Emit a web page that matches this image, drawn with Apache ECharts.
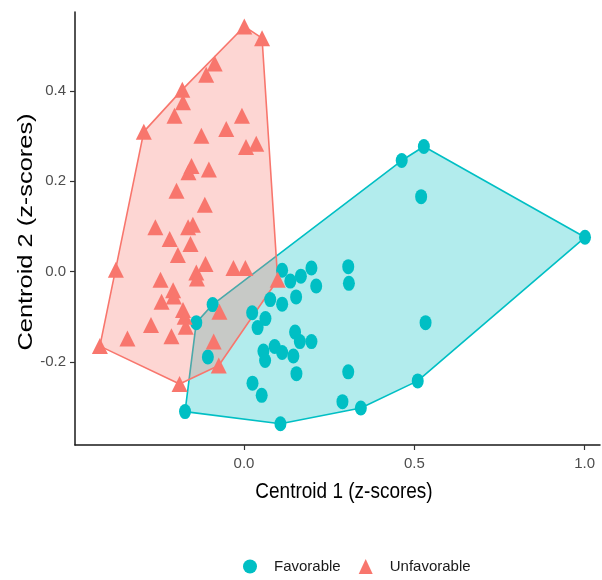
<!DOCTYPE html>
<html>
<head>
<meta charset="utf-8">
<script src="https://cdn.jsdelivr.net/npm/echarts@6/dist/echarts.min.js"></script>
<style>
  html, body { margin: 0; padding: 0; background: #fff; }
  #chart { width: 602px; height: 580px; }
</style>
</head>
<body>
<div id="chart"></div>
<script>
// Centroid scores (z-scores) per case, split by outcome group
const favorableX = [0.528, 0.463, 0.520, 1.001, 0.533, 0.510, 0.112, 0.136, 0.167, 0.198,
  0.212, 0.306, 0.308, 0.153, 0.077, 0.112, 0.024, 0.063, 0.040, -0.092,
  -0.140, -0.106, 0.150, 0.164, 0.198, 0.090, 0.112, 0.057, 0.062, 0.145,
  0.154, 0.025, 0.052, 0.306, 0.289, 0.343, -0.173, 0.107];
const favorableY = [0.277, 0.246, 0.166, 0.076, -0.113, -0.242, 0.003, -0.021, -0.010, 0.008,
  -0.032, 0.011, -0.026, -0.056, -0.062, -0.072, -0.091, -0.104, -0.124, -0.073,
  -0.113, -0.189, -0.134, -0.155, -0.155, -0.166, -0.179, -0.176, -0.197, -0.187,
  -0.226, -0.247, -0.274, -0.222, -0.288, -0.302, -0.310, -0.337];

const unfavorableX = [0.001, 0.053, -0.086, -0.111, -0.181, -0.179, -0.204, -0.294, -0.006, -0.052,
  -0.125, 0.006, 0.036, -0.154, -0.163, -0.103, -0.198, -0.115, -0.260, -0.164,
  -0.150, -0.218, -0.157, -0.194, -0.376, -0.245, -0.140, -0.138, -0.113, -0.031,
  0.004, 0.099, -0.208, -0.206, -0.242, -0.179, -0.174, -0.171, -0.273, -0.213,
  -0.342, -0.423, -0.072, -0.089, -0.074, -0.189];
const unfavorableY = [0.543, 0.517, 0.461, 0.436, 0.403, 0.375, 0.345, 0.310, 0.345, 0.316,
  0.301, 0.276, 0.283, 0.234, 0.220, 0.226, 0.179, 0.148, 0.098, 0.098,
  0.104, 0.072, 0.061, 0.037, 0.004, -0.018, -0.002, -0.015, 0.017, 0.008,
  0.008, -0.018, -0.041, -0.055, -0.067, -0.085, -0.100, -0.122, -0.118, -0.143,
  -0.148, -0.165, -0.089, -0.155, -0.208, -0.249];

const groupNames = ['Favorable', 'Unfavorable'];
const xTicks = [0.0, 0.5, 1.0];
const yTicks = [-0.2, 0.0, 0.2, 0.4];

const COL_FAV = '#00BFC4';
const COL_UNF = '#F8766D';

const zip = (xs, ys) => xs.map((x, i) => [x, ys[i]]);
const favPts = zip(favorableX, favorableY);
const unfPts = zip(unfavorableX, unfavorableY);

// Convex hull (monotone chain) of a group's points
function convexHull(points) {
  const p = points.slice().sort((a, b) => a[0] - b[0] || a[1] - b[1]);
  const cross = (o, a, b) => (a[0] - o[0]) * (b[1] - o[1]) - (a[1] - o[1]) * (b[0] - o[0]);
  const lower = [];
  for (const pt of p) {
    while (lower.length >= 2 && cross(lower[lower.length - 2], lower[lower.length - 1], pt) <= 0) lower.pop();
    lower.push(pt);
  }
  const upper = [];
  for (let i = p.length - 1; i >= 0; i--) {
    const pt = p[i];
    while (upper.length >= 2 && cross(upper[upper.length - 2], upper[upper.length - 1], pt) <= 0) upper.pop();
    upper.push(pt);
  }
  upper.pop(); lower.pop();
  return lower.concat(upper);
}

function hullSeries(points, fill, stroke) {
  const hull = convexHull(points);
  return {
    type: 'custom',
    silent: true,
    data: hull,
    encode: { x: 0, y: 1 },
    renderItem: function (params, api) {
      if (params.dataIndex !== 0) return;
      const pts = hull.map(p => api.coord(p));
      return {
        type: 'polygon',
        shape: { points: pts },
        style: { fill: fill, stroke: stroke, lineWidth: 1.6, lineJoin: 'round' }
      };
    }
  };
}

const chart = echarts.init(document.getElementById('chart'), null, { renderer: 'canvas' });

const tickLabelStyle = { color: '#4d4d4d', fontSize: 15, fontFamily: 'Liberation Sans' };

chart.setOption({
  animation: false,
  backgroundColor: '#ffffff',
  grid: { left: 75, right: 2, top: 12, bottom: 135 },
  xAxis: {
    type: 'value',
    min: -0.496, max: 1.045,
    splitLine: { show: false },
    axisLine: { onZero: false, lineStyle: { color: '#1a1a1a', width: 1.5 } },
    axisTick: { show: true, length: 5, customValues: xTicks, lineStyle: { color: '#333', width: 1.2 } },
    axisLabel: { customValues: xTicks, margin: 11, formatter: v => v.toFixed(1), ...tickLabelStyle }
  },
  yAxis: {
    type: 'value',
    min: -0.384, max: 0.575,
    splitLine: { show: false },
    axisLine: { onZero: false, lineStyle: { color: '#1a1a1a', width: 1.5 } },
    axisTick: { show: true, length: 5, customValues: yTicks, lineStyle: { color: '#333', width: 1.2 } },
    axisLabel: { customValues: yTicks, margin: 9, formatter: v => v.toFixed(1), ...tickLabelStyle }
  },
  legend: {
    left: 238, top: 554,
    itemWidth: 14, itemHeight: 15, itemGap: 18,
    data: [
      { name: groupNames[0], icon: 'circle' },
      { name: groupNames[1], icon: 'triangle' }
    ],
    textStyle: { color: '#1a1a1a', fontSize: 15, fontFamily: 'Liberation Sans', padding: [0, 0, 0, 12] },
    selectedMode: false
  },
  graphic: [
    {
      type: 'text',
      x: 344, y: 492,
      scaleY: 1.15,
      style: {
        text: 'Centroid 1 (z-scores)',
        fontSize: 19, fontFamily: 'Liberation Sans', fill: '#000',
        align: 'center', verticalAlign: 'middle'
      }
    },
    {
      type: 'text',
      x: 26, y: 232,
      rotation: Math.PI / 2,
      scaleX: 1.27,
      style: {
        text: 'Centroid 2 (z-scores)',
        fontSize: 20, fontFamily: 'Liberation Sans', fill: '#000',
        align: 'center', verticalAlign: 'middle'
      }
    }
  ],
  series: [
    {
      name: groupNames[0], type: 'scatter', data: favPts,
      symbol: 'circle', symbolSize: [12, 15],
      itemStyle: { color: COL_FAV, opacity: 1 },
      emphasis: { disabled: true }
    },
    {
      name: groupNames[1], type: 'scatter', data: unfPts,
      symbol: 'triangle', symbolSize: [16, 16],
      itemStyle: { color: COL_UNF, opacity: 1 },
      emphasis: { disabled: true }
    },
    hullSeries(favPts, 'rgba(0,191,196,0.3)', COL_FAV),
    hullSeries(unfPts, 'rgba(248,118,109,0.3)', COL_UNF)
  ]
});
</script>
</body>
</html>
